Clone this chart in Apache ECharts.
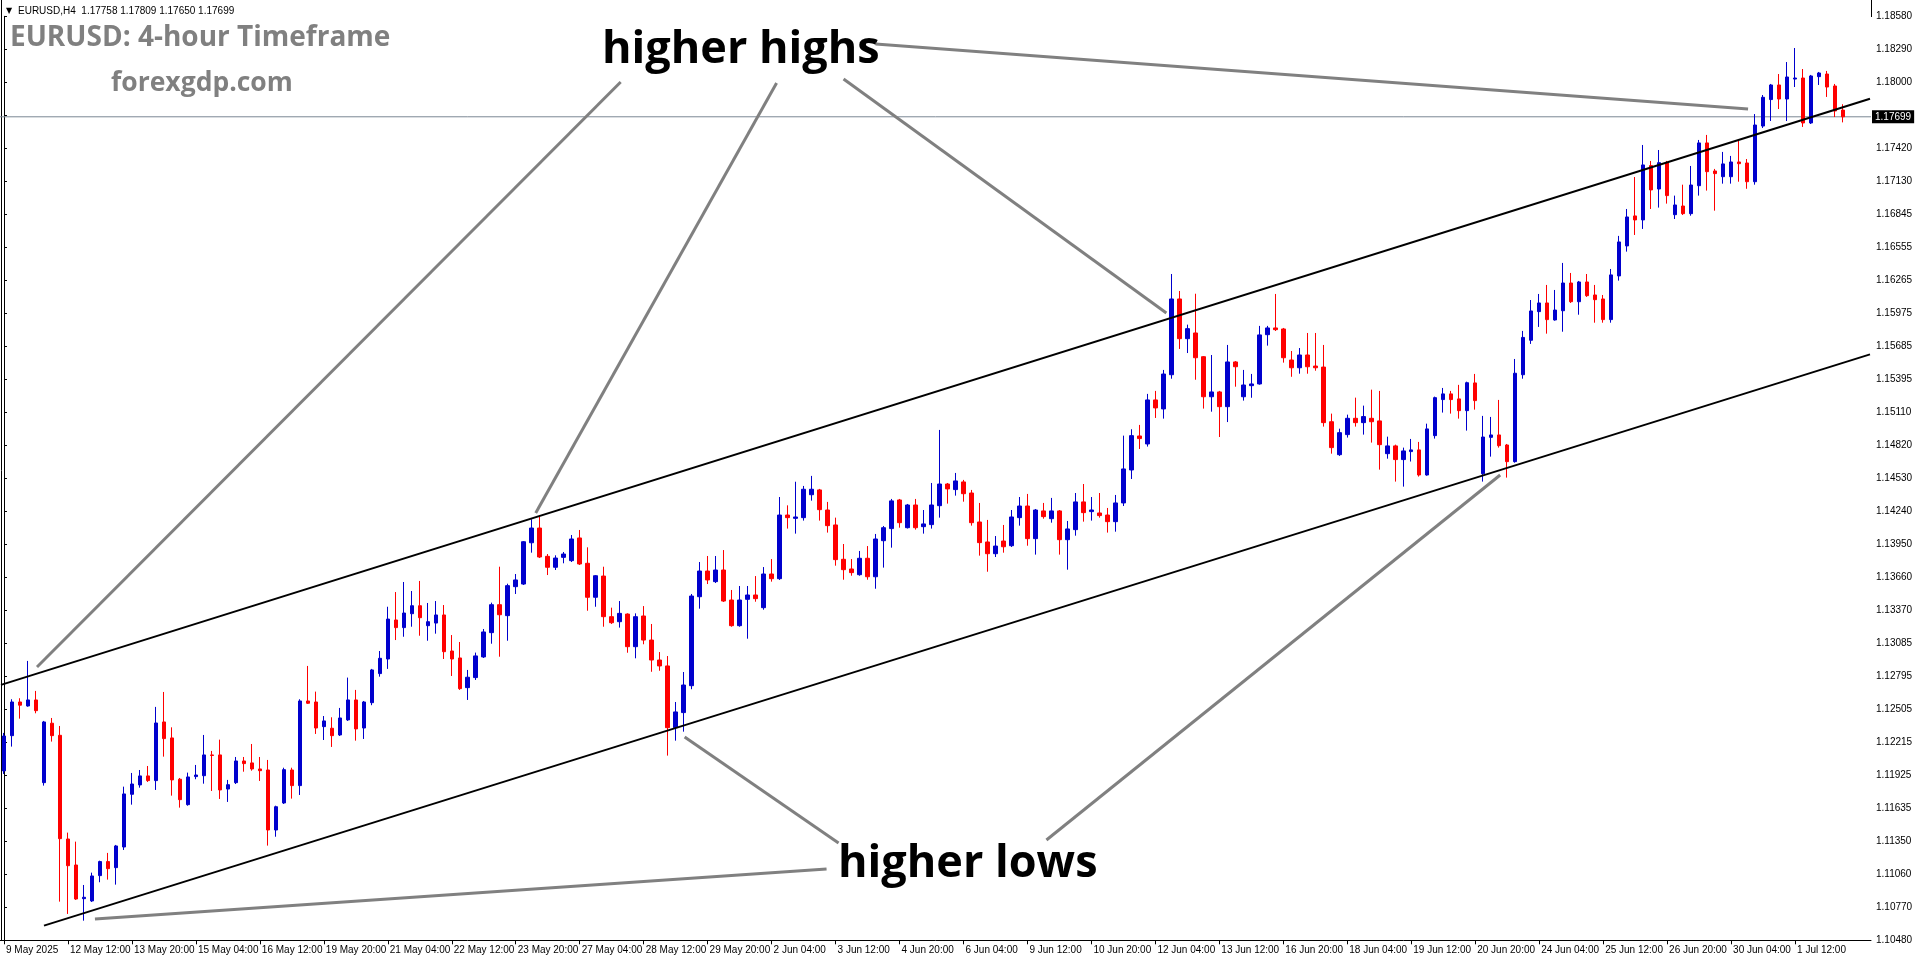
<!DOCTYPE html>
<html><head><meta charset="utf-8">
<script src="https://cdn.jsdelivr.net/npm/echarts@6/dist/echarts.min.js"></script>
<style>html,body{margin:0;padding:0;background:#fff;}#c{width:1916px;height:964px;}</style>
</head><body><div id="c"></div>
<script>
// ---- data (EURUSD H4, 9 May 2025 04:00 .. 2 Jul 2025 12:00) ----
const opens=[1.11965,1.12274,1.12569,1.12534,1.12587,1.11862,1.12383,1.12277,1.11368,1.11140,
1.10845,1.10825,1.11047,1.11170,1.11117,1.11298,1.11760,1.11842,1.11921,1.11880,
1.12394,1.12254,1.11892,1.11669,1.11915,1.11923,1.12105,1.12105,1.11806,1.11862,
1.12052,1.12035,1.11982,1.11973,1.11447,1.11684,1.11973,1.11836,1.12578,1.12569,
1.12353,1.12339,1.12280,1.12412,1.12587,1.12341,1.12563,1.12818,1.12946,1.13288,
1.13221,1.13343,1.13413,1.13238,1.13261,1.13332,1.13016,1.12955,1.12695,1.12783,
1.12964,1.13177,1.13422,1.13326,1.13580,1.13603,1.13965,1.14094,1.13846,1.13750,
1.13837,1.13808,1.14007,1.13785,1.13487,1.13673,1.13317,1.13273,1.13340,1.13054,
1.13323,1.13112,1.12937,1.12885,1.12344,1.12476,1.12712,1.13492,1.13717,1.13624,
1.13726,1.13463,1.13238,1.13469,1.13507,1.13396,1.13691,1.13650,1.14208,1.14179,
1.14185,1.14386,1.14428,1.14252,1.14121,1.13820,1.13735,1.13685,1.13829,1.13667,
1.13983,1.14089,1.14340,1.14097,1.14296,1.14106,1.14124,1.14290,1.14480,1.14431,
1.14498,1.14401,1.14147,1.13972,1.13869,1.13980,1.13939,1.14185,1.14287,1.14001,
1.14244,1.14176,1.14244,1.13992,1.14080,1.14323,1.14238,1.14226,1.14208,1.14150,
1.14314,1.14603,1.14901,1.14831,1.15217,1.15138,1.15438,1.16102,1.15754,1.15804,
1.15596,1.15245,1.15287,1.15158,1.15550,1.15245,1.15342,1.15357,1.15789,1.15848,
1.15839,1.15567,1.15499,1.15611,1.15514,1.15505,1.15026,1.14737,1.14913,1.15056,
1.15018,1.15056,1.15033,1.14746,1.14814,1.14694,1.14764,1.14779,1.14559,1.14904,
1.15220,1.15270,1.15226,1.15123,1.15366,1.14570,1.14889,1.14910,1.14822,1.14676,
1.15438,1.15740,1.15991,1.16067,1.15918,1.15999,1.16242,1.16078,1.16251,1.16137,
1.16102,1.15921,1.16304,1.16567,1.16830,1.16795,1.17271,1.17066,1.17297,1.16841,
1.16917,1.16850,1.17095,1.17470,1.17224,1.17174,1.17174,1.17303,1.17294,1.17130,
1.17618,1.17850,1.17978,1.17855,1.18030,1.18039,1.17645,1.18051,1.18074,1.17969,
1.17758];
const highs=[1.12298,1.12593,1.12602,1.12929,1.12666,1.12403,1.12429,1.12359,1.11424,1.11345,
1.10965,1.11073,1.11178,1.11246,1.11316,1.11827,1.11947,1.11973,1.12008,1.12526,
1.12657,1.12347,1.11903,1.11950,1.12017,1.12280,1.12140,1.12239,1.11886,1.12087,
1.12087,1.12201,1.12087,1.12061,1.11660,1.11993,1.11993,1.12593,1.12885,1.12660,
1.12446,1.12435,1.12517,1.12783,1.12675,1.12578,1.12859,1.13016,1.13404,1.13533,
1.13621,1.13542,1.13630,1.13437,1.13454,1.13419,1.13156,1.13095,1.12850,1.13002,
1.13209,1.13440,1.13755,1.13606,1.13691,1.13980,1.14171,1.14206,1.13866,1.13855,
1.13884,1.14033,1.14077,1.13925,1.13682,1.13755,1.13396,1.13454,1.13346,1.13346,
1.13410,1.13253,1.13007,1.12972,1.12569,1.12832,1.13516,1.13796,1.13849,1.13849,
1.13901,1.13551,1.13586,1.13586,1.13673,1.13752,1.13822,1.14366,1.14293,1.14500,
1.14463,1.14551,1.14437,1.14323,1.14185,1.13954,1.13822,1.13893,1.13936,1.14042,
1.14112,1.14349,1.14349,1.14305,1.14349,1.14252,1.14489,1.14954,1.14489,1.14577,
1.14516,1.14428,1.14314,1.14165,1.14024,1.14121,1.14252,1.14366,1.14393,1.14261,
1.14314,1.14358,1.14252,1.14156,1.14401,1.14480,1.14366,1.14401,1.14270,1.14384,
1.14904,1.14960,1.14998,1.15270,1.15296,1.15480,1.16321,1.16172,1.15877,1.16148,
1.15602,1.15611,1.15296,1.15699,1.15558,1.15480,1.15445,1.15866,1.15866,1.16146,
1.15848,1.15646,1.15672,1.15804,1.15804,1.15699,1.15097,1.14965,1.15088,1.15237,
1.15167,1.15307,1.15296,1.14895,1.14825,1.14799,1.14875,1.14849,1.15009,1.15246,
1.15322,1.15296,1.15349,1.15377,1.15445,1.15077,1.15068,1.15217,1.14831,1.15576,
1.15822,1.16093,1.16146,1.16225,1.16181,1.16418,1.16330,1.16260,1.16321,1.16225,
1.16137,1.16365,1.16655,1.16891,1.17171,1.17452,1.17312,1.17408,1.17312,1.17008,
1.17104,1.17268,1.17496,1.17540,1.17242,1.17391,1.17356,1.17504,1.17329,1.17723,
1.17890,1.17987,1.18074,1.18179,1.18302,1.18118,1.18066,1.18092,1.18101,1.17987,
1.17809];
const lows=[1.11938,1.12178,1.12423,1.12528,1.12470,1.11836,1.12222,1.10819,1.10711,1.10834,
1.10652,1.10816,1.10989,1.11012,1.10968,1.11272,1.11669,1.11818,1.11868,1.11798,
1.12090,1.11748,1.11643,1.11660,1.11892,1.11853,1.11789,1.11719,1.11693,1.11850,
1.11958,1.11967,1.11877,1.11310,1.11388,1.11675,1.11722,1.11754,1.12552,1.12289,
1.12236,1.12175,1.12271,1.12403,1.12230,1.12245,1.12541,1.12791,1.12859,1.13112,
1.13141,1.13229,1.13150,1.13106,1.13168,1.12946,1.12797,1.12675,1.12587,1.12762,
1.12955,1.13080,1.12966,1.13106,1.13516,1.13595,1.13878,1.13831,1.13682,1.13726,
1.13785,1.13796,1.13770,1.13369,1.13404,1.13229,1.13253,1.13221,1.13001,1.12952,
1.13075,1.12834,1.12843,1.12099,1.12230,1.12309,1.12681,1.13387,1.13603,1.13612,
1.13446,1.13229,1.13229,1.13124,1.13448,1.13378,1.13624,1.13639,1.14089,1.14045,
1.14159,1.14334,1.14159,1.14054,1.13764,1.13641,1.13676,1.13676,1.13641,1.13562,
1.13747,1.13922,1.14097,1.14090,1.14080,1.14045,1.14089,1.14185,1.14308,1.14378,
1.14325,1.14115,1.13852,1.13711,1.13840,1.13878,1.13928,1.14115,1.13939,1.13861,
1.14176,1.14141,1.13861,1.13729,1.14027,1.14150,1.14159,1.14185,1.14054,1.14062,
1.14287,1.14524,1.14787,1.14808,1.15059,1.15053,1.15403,1.15664,1.15628,1.15394,
1.15141,1.15114,1.14892,1.15023,1.15333,1.15211,1.15236,1.15351,1.15693,1.15821,
1.15544,1.15420,1.15447,1.15447,1.15473,1.14983,1.14746,1.14726,1.14887,1.14983,
1.14913,1.14843,1.14606,1.14702,1.14501,1.14457,1.14677,1.14545,1.14553,1.14878,
1.15106,1.15097,1.15053,1.14948,1.15132,1.14501,1.14720,1.14799,1.14536,1.14667,
1.15403,1.15708,1.15857,1.15798,1.15912,1.15815,1.16067,1.15964,1.16120,1.15894,
1.15894,1.15894,1.16263,1.16517,1.16663,1.16716,1.16891,1.16903,1.16938,1.16803,
1.16838,1.16832,1.17008,1.17052,1.16876,1.17113,1.17113,1.17130,1.17068,1.17104,
1.17601,1.17662,1.17767,1.17662,1.17960,1.17610,1.17636,1.17978,1.17873,1.17697,
1.17650];
const closes=[1.12271,1.12569,1.12541,1.12587,1.12493,1.12394,1.12274,1.11371,1.11134,1.10842,
1.10857,1.11044,1.11170,1.11108,1.11307,1.11763,1.11850,1.11921,1.11880,1.12385,
1.12248,1.11886,1.11713,1.11912,1.11929,1.12105,1.12100,1.11798,1.11844,1.12052,
1.12029,1.11982,1.11967,1.11447,1.11651,1.11976,1.11836,1.12578,1.12558,1.12341,
1.12403,1.12274,1.12429,1.12587,1.12333,1.12569,1.12850,1.12952,1.13296,1.13221,
1.13349,1.13413,1.13308,1.13273,1.13332,1.13010,1.12946,1.12686,1.12786,1.12973,
1.13183,1.13422,1.13334,1.13589,1.13639,1.13974,1.14094,1.13840,1.13750,1.13831,
1.13866,1.13998,1.13779,1.13487,1.13676,1.13317,1.13264,1.13346,1.13054,1.13317,
1.13112,1.12937,1.12885,1.12344,1.12482,1.12718,1.13498,1.13717,1.13639,1.13726,
1.13454,1.13238,1.13463,1.13507,1.13475,1.13691,1.13650,1.14208,1.14185,1.14191,
1.14434,1.14434,1.14255,1.14115,1.13817,1.13729,1.13703,1.13829,1.13667,1.13998,
1.14097,1.14332,1.14141,1.14296,1.14097,1.14130,1.14296,1.14480,1.14437,1.14507,
1.14395,1.14141,1.13966,1.13869,1.13936,1.13930,1.14191,1.14287,1.14001,1.14252,
1.14194,1.14244,1.13992,1.14086,1.14323,1.14229,1.14252,1.14203,1.14150,1.14314,
1.14612,1.14904,1.14878,1.15217,1.15147,1.15444,1.16102,1.15754,1.15842,1.15587,
1.15245,1.15287,1.15158,1.15550,1.15508,1.15348,1.15357,1.15787,1.15848,1.15833,
1.15587,1.15499,1.15611,1.15508,1.15499,1.15018,1.14799,1.14930,1.15056,1.15018,
1.15071,1.15026,1.14825,1.14814,1.14694,1.14770,1.14779,1.14559,1.14963,1.15237,
1.15270,1.15220,1.15123,1.15368,1.15211,1.14892,1.14910,1.14816,1.14676,1.15451,
1.15765,1.15997,1.16067,1.15921,1.16005,1.16242,1.16078,1.16251,1.16131,1.16096,
1.15921,1.16313,1.16602,1.16821,1.16795,1.17277,1.17058,1.17297,1.17008,1.16926,
1.16850,1.17101,1.17470,1.17218,1.17201,1.17286,1.17303,1.17288,1.17130,1.17627,
1.17870,1.17978,1.17855,1.18048,1.18039,1.17645,1.18057,1.18083,1.17960,1.17750,
1.17699];

// x tick labels: one every 8 bars starting at the first bar
const xTickLabels=['9 May 2025','12 May 12:00','13 May 20:00','15 May 04:00','16 May 12:00','19 May 20:00',
'21 May 04:00','22 May 12:00','23 May 20:00','27 May 04:00','28 May 12:00','29 May 20:00','2 Jun 04:00',
'3 Jun 12:00','4 Jun 20:00','6 Jun 04:00','9 Jun 12:00','10 Jun 20:00','12 Jun 04:00','13 Jun 12:00',
'16 Jun 20:00','18 Jun 04:00','19 Jun 12:00','20 Jun 20:00','24 Jun 04:00','25 Jun 12:00','26 Jun 20:00',
'30 Jun 04:00','1 Jul 12:00'];
// y tick labels from bottom to top (the 1.17710 label is hidden under the price box)
const yTickLabels=['1.10480','1.10770','1.11060','1.11350','1.11635','1.11925','1.12215','1.12505',
'1.12795','1.13085','1.13370','1.13660','1.13950','1.14240','1.14530','1.14820','1.15110','1.15395',
'1.15685','1.15975','1.16265','1.16555','1.16845','1.17130','1.17420','','1.18000','1.18290','1.18580'];
const yMin=1.10480, yMax=1.18580;
const lastPrice=1.17699;
const headerText='EURUSD,H4  1.17758 1.17809 1.17650 1.17699';

// drawn objects, in (bar index, price)
const upperChannel=[[-0.375,1.12719],[233.375,1.17857]];
const lowerChannel=[[5,1.10609],[233.375,1.15616]];
const highArrows=[[[4.125,1.12876],[77.125,1.18004]],[[66.5,1.14226],[96.625,1.17995]],
  [[145.375,1.15979],[105,1.18030]],[[109,1.18337],[218.125,1.17767]]];
const lowArrows=[[[11.375,1.10667],[102.875,1.11105]],[[85.125,1.12263],[104.375,1.11333]],
  [[187.125,1.14559],[130.375,1.11359]]];

const SLOTS=234; // 231 bars + right shift
const cats=[];
for(let i=0;i<SLOTS;i++){cats.push(i%8===0 && i/8<xTickLabels.length ? xTickLabels[i/8] : '');}
const candle=opens.map((o,i)=>[o,closes[i],lows[i],highs[i]]);
const yInterval=(yMax-yMin)/28;
const axisFont='"Liberation Sans", Arial, sans-serif';

const chart=echarts.init(document.getElementById('c'),null,{renderer:'canvas'});
const lineSeries=[];
function addLine(pts,color,w,z,extra){
  lineSeries.push(Object.assign({type:'line',xAxisIndex:1,yAxisIndex:0,data:pts,symbol:'none',silent:true,z:z,
    lineStyle:{color:color,width:w},animation:false},extra||{}));
}
// bid price line with its price box on the axis
addLine([[-0.5,lastPrice],[SLOTS-0.5,lastPrice]],'#7b8794',1,1,{
  endLabel:{show:true,formatter:()=>lastPrice.toFixed(5),color:'#fff',backgroundColor:'#000',
    fontSize:10,fontFamily:axisFont,padding:[2,3,1,3],distance:1}});
addLine(upperChannel,'#000',2,3);
addLine(lowerChannel,'#000',2,3);
highArrows.forEach(p=>addLine(p,'#808080',3,4));
lowArrows.forEach(p=>addLine(p,'#808080',3,4));

chart.setOption({
  animation:false,
  backgroundColor:'#fff',
  grid:{left:-1,top:16.3,width:1872,height:924,show:false},
  xAxis:[{type:'category',data:cats,boundaryGap:true,
    axisLine:{show:true,lineStyle:{color:'#000',width:1}},
    axisTick:{show:true,length:4,alignWithLabel:true,interval:(i,v)=>v!=='',lineStyle:{color:'#000'}},
    axisLabel:{interval:(i,v)=>v!=='',align:'left',color:'#000',fontSize:10,fontFamily:axisFont,margin:5,padding:[0,0,0,2]},
    splitLine:{show:false}},
    {type:'value',min:-0.5,max:SLOTS-0.5,show:false}],
  yAxis:[{type:'value',position:'right',min:yMin,max:yMax,interval:yInterval,
    axisLine:{show:true,lineStyle:{color:'#000',width:1}},
    axisTick:{show:true,length:3,lineStyle:{color:'#000'}},
    axisLabel:{color:'#000',fontSize:10,fontFamily:axisFont,margin:5,
      formatter:v=>{const k=Math.round((v-yMin)/yInterval);return yTickLabels[k]||'';}},
    splitLine:{show:false}}],
  series:[{type:'candlestick',xAxisIndex:0,yAxisIndex:0,data:candle,barWidth:4,z:2,
    itemStyle:{color:'#0000cd',color0:'#ff0000',borderColor:'#0000cd',borderColor0:'#ff0000',borderWidth:1}
  }].concat(lineSeries),
  graphic:[
    {type:'line',shape:{x1:1.5,y1:0,x2:1.5,y2:941},style:{stroke:'#000',lineWidth:1},silent:true},
    {type:'line',shape:{x1:1871.5,y1:0,x2:1871.5,y2:17},style:{stroke:'#000',lineWidth:1},silent:true},
    {type:'text',x:6,y:11,style:{text:'\u25BC',fill:'#000',font:'8px "DejaVu Sans"',verticalAlign:'middle'},silent:true},
    {type:'text',x:18,y:11,style:{text:headerText,fill:'#000',font:'10px '+axisFont,verticalAlign:'middle'},silent:true},
    {type:'text',x:10,y:38,style:{text:'EURUSD: 4-hour Timeframe',fill:'#808080',font:'bold 28px "Open Sans"',verticalAlign:'middle'},silent:true},
    {type:'text',x:111,y:83,style:{text:'forexgdp.com',fill:'#808080',font:'bold 26.5px "Open Sans"',verticalAlign:'middle'},silent:true},
    {type:'text',x:602,y:50,style:{text:'higher highs',fill:'#000',font:'bold 45px "Open Sans"',verticalAlign:'middle'},silent:true},
    {type:'text',x:838,y:864,style:{text:'higher lows',fill:'#000',font:'bold 45px "Open Sans"',verticalAlign:'middle'},silent:true}
  ]
});
</script>
</body></html>
